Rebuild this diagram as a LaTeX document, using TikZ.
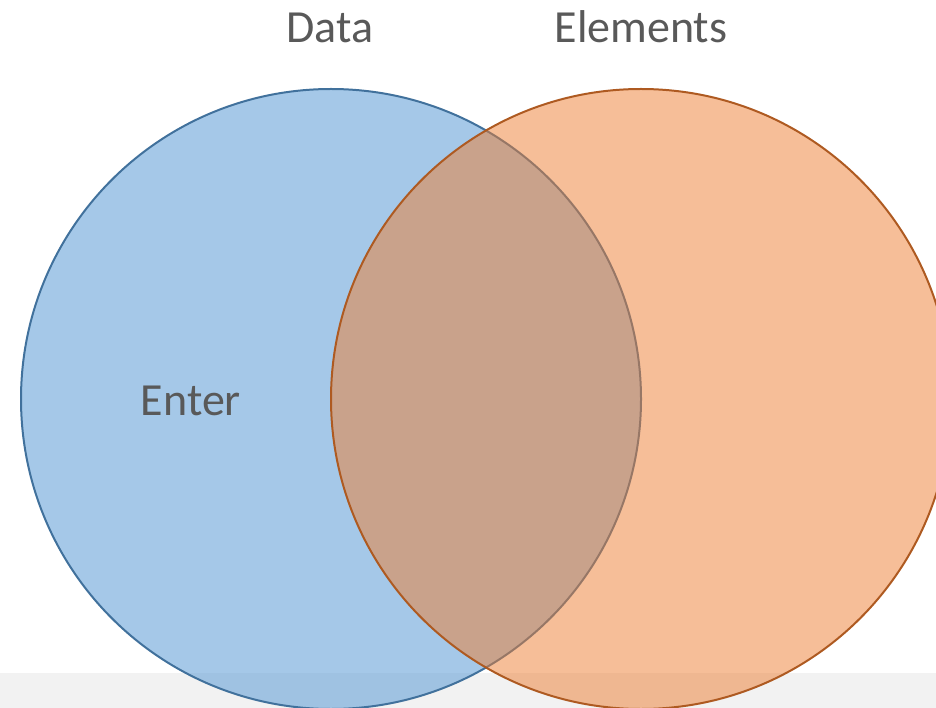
\documentclass[tikz,border=0pt]{standalone}
\usepackage{fontspec}
\setmainfont{Carlito}
\definecolor{txt}{HTML}{595959}
\definecolor{bluefill}{HTML}{5B9BD5}
\definecolor{blueline}{HTML}{41719C}
\definecolor{orangefill}{HTML}{ED7D31}
\definecolor{orangeline}{HTML}{AE5A21}
\definecolor{band}{HTML}{F2F2F2}
\begin{document}
\begin{tikzpicture}[x=1pt,y=-1pt,
  lbl/.style={text=txt,font=\fontsize{46}{50}\selectfont,inner sep=0pt,anchor=base},
  setcircle/.style={circle,minimum size=620pt,inner sep=0pt,line width=2pt}]
\useasboundingbox (0,0) rectangle (936,708);
\fill[band] (0,673) rectangle (936,708);
\node[setcircle,draw=blueline,fill=bluefill,fill opacity=0.55] (data) at (331,399) {};
\node[setcircle,draw=orangeline,fill=orangefill,fill opacity=0.5] (elements) at (641,399) {};
\node[lbl] (datalbl) at (330,43) {Data};
\node[lbl] (elemlbl) at (641,43) {Elements};
\node[lbl] (enter) at (191,415) {Enter};
\end{tikzpicture}
\end{document}
